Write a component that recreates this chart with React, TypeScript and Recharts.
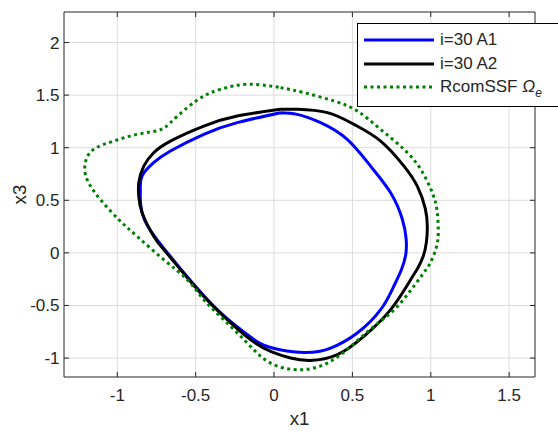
import React from 'react';
import { LineChart, Line, XAxis, YAxis, CartesianGrid, ReferenceLine } from 'recharts';

// ---- Data ----
const X_TICKS = [-1, -0.5, 0, 0.5, 1, 1.5];
const Y_TICKS = [-1, -0.5, 0, 0.5, 1, 1.5, 2];
const X_DOMAIN = [-1.34, 1.665];
const Y_DOMAIN = [-1.18, 2.29];

const SERIES_NAMES = ['i=30 A1', 'i=30 A2', 'RcomSSF'];

// i=30 A1 (blue)
const a1X = [0.042, 0.148, 0.297, 0.467, 0.616, 0.744, 0.819, 0.843, 0.84, 0.81, 0.76, 0.68, 0.531, 0.361, 0.19, -0.022, -0.15, -0.321, -0.469, -0.597, -0.704, -0.821, -0.853, -0.853, -0.842, -0.768, -0.661, -0.448, -0.235, 0.042];
const a1Y = [1.333, 1.317, 1.238, 1.079, 0.825, 0.571, 0.317, 0.13, -0.02, -0.17, -0.33, -0.54, -0.762, -0.905, -0.947, -0.9, -0.8, -0.597, -0.372, -0.15, 0.045, 0.298, 0.508, 0.603, 0.73, 0.857, 0.968, 1.127, 1.238, 1.333];

// i=30 A2 (black)
const a2X = [0.042, 0.148, 0.34, 0.51, 0.68, 0.829, 0.914, 0.965, 0.978, 0.972, 0.95, 0.915, 0.872, 0.744, 0.573, 0.404, 0.233, 0.105, -0.022, -0.15, -0.321, -0.469, -0.597, -0.704, -0.768, -0.842, -0.863, -0.863, -0.831, -0.768, -0.661, -0.448, -0.235, 0.042];
const a2Y = [1.365, 1.365, 1.333, 1.222, 1.063, 0.825, 0.634, 0.42, 0.25, 0.1, -0.04, -0.15, -0.254, -0.54, -0.794, -0.968, -1.023, -1.0, -0.937, -0.825, -0.604, -0.381, -0.159, 0.032, 0.158, 0.381, 0.539, 0.667, 0.825, 0.952, 1.063, 1.206, 1.301, 1.365];

// RcomSSF Omega_e (green dotted)
const ssfX = [0.042, 0.19, 0.382, 0.531, 0.68, 0.829, 0.936, 1.01, 1.04, 1.048, 1.035, 0.995, 0.93, 0.787, 0.637, 0.489, 0.34, 0.169, -0.022, -0.171, -0.321, -0.448, -0.554, -0.704, -0.874, -0.991, -1.108, -1.193, -1.204, -1.151, -1.023, -0.874, -0.736, -0.661, -0.554, -0.448, -0.342, -0.171, 0.042];
const ssfY = [1.571, 1.524, 1.444, 1.349, 1.174, 0.984, 0.794, 0.571, 0.4, 0.2, 0.05, -0.1, -0.24, -0.509, -0.699, -0.89, -1.048, -1.111, -1.048, -0.857, -0.635, -0.445, -0.254, -0.064, 0.158, 0.317, 0.508, 0.698, 0.857, 0.984, 1.063, 1.127, 1.165, 1.238, 1.381, 1.491, 1.555, 1.603, 1.571];

const zip = (xs: number[], ys: number[]) => xs.map((x, i) => ({ x, y: ys[i] }));
const a1Data = zip(a1X, a1Y);
const a2Data = zip(a2X, a2Y);
const ssfData = zip(ssfX, ssfY);

// ---- Layout ----
const W = 558;
const H = 433;
const PLOT_LEFT = 64;
const PLOT_TOP = 12;
const PLOT_RIGHT = 535;
const PLOT_BOTTOM = 377;
const AXIS_COLOR = '#262626';
const FONT = '"Liberation Sans", Arial, Helvetica, sans-serif';
const TICK_FS = 17;
const TICK_LEN = 5;

const XTick = (props: any) => {
  const { x, payload } = props;
  return (
    <g>
      <line x1={x} x2={x} y1={PLOT_BOTTOM} y2={PLOT_BOTTOM - TICK_LEN} stroke={AXIS_COLOR} strokeWidth={1} />
      <line x1={x} x2={x} y1={PLOT_TOP} y2={PLOT_TOP + TICK_LEN} stroke={AXIS_COLOR} strokeWidth={1} />
      <text x={x} y={401} textAnchor="middle" fontSize={TICK_FS} fill={AXIS_COLOR} fontFamily={FONT}>
        {String(payload.value)}
      </text>
    </g>
  );
};

const YTick = (props: any) => {
  const { y, payload } = props;
  return (
    <g>
      <line x1={PLOT_LEFT} x2={PLOT_LEFT + TICK_LEN} y1={y} y2={y} stroke={AXIS_COLOR} strokeWidth={1} />
      <line x1={PLOT_RIGHT} x2={PLOT_RIGHT - TICK_LEN} y1={y} y2={y} stroke={AXIS_COLOR} strokeWidth={1} />
      <text x={59.5} y={y + 6} textAnchor="end" fontSize={TICK_FS} fill={AXIS_COLOR} fontFamily={FONT}>
        {String(payload.value)}
      </text>
    </g>
  );
};

const legendItems = [
  { name: SERIES_NAMES[0], color: '#0000ff', dash: undefined as string | undefined },
  { name: SERIES_NAMES[1], color: '#000000', dash: undefined as string | undefined },
  { name: SERIES_NAMES[2], color: '#008000', dash: '3 3.5' },
];

export default function App() {
  return (
    <div style={{ position: 'absolute', left: 0, top: 0, width: W, height: H, background: '#fff', overflow: 'hidden', fontFamily: FONT }}>
      <LineChart width={W} height={H} margin={{ top: PLOT_TOP, right: W - PLOT_RIGHT, bottom: 0, left: 0 }}>
        <CartesianGrid stroke="#dcdcdc" strokeWidth={1} horizontalValues={Y_TICKS} verticalValues={X_TICKS} />
        <XAxis
          type="number"
          dataKey="x"
          domain={X_DOMAIN}
          allowDataOverflow
          ticks={X_TICKS}
          interval={0}
          height={H - PLOT_BOTTOM}
          tickLine={false}
          axisLine={{ stroke: AXIS_COLOR, strokeWidth: 1 }}
          tick={<XTick />}
          label={{
            content: () => (
              <text x={(PLOT_LEFT + PLOT_RIGHT) / 2} y={425} textAnchor="middle" fontSize={18.7} fill={AXIS_COLOR} fontFamily={FONT}>
                x1
              </text>
            ),
          }}
        />
        <YAxis
          type="number"
          dataKey="y"
          domain={Y_DOMAIN}
          allowDataOverflow
          ticks={Y_TICKS}
          interval={0}
          width={PLOT_LEFT}
          tickLine={false}
          axisLine={{ stroke: AXIS_COLOR, strokeWidth: 1 }}
          tick={<YTick />}
          label={{
            content: () => (
              <text
                x={26}
                y={(PLOT_TOP + PLOT_BOTTOM) / 2}
                textAnchor="middle"
                fontSize={18.7}
                fill={AXIS_COLOR}
                fontFamily={FONT}
                transform={`rotate(-90, 26, ${(PLOT_TOP + PLOT_BOTTOM) / 2})`}
              >
                x3
              </text>
            ),
          }}
        />
        <ReferenceLine y={Y_DOMAIN[1]} stroke={AXIS_COLOR} strokeWidth={1} ifOverflow="visible" />
        <ReferenceLine x={X_DOMAIN[1]} stroke={AXIS_COLOR} strokeWidth={1} ifOverflow="visible" />
        <Line data={a1Data} dataKey="y" name={SERIES_NAMES[0]} type="natural" stroke="#0000ff" strokeWidth={3} dot={false} activeDot={false} isAnimationActive={false} />
        <Line data={a2Data} dataKey="y" name={SERIES_NAMES[1]} type="natural" stroke="#000000" strokeWidth={3} dot={false} activeDot={false} isAnimationActive={false} />
        <Line data={ssfData} dataKey="y" name={SERIES_NAMES[2]} type="natural" stroke="#008000" strokeWidth={3} strokeDasharray="3 3.5" dot={false} activeDot={false} isAnimationActive={false} />
      </LineChart>
      <div
        style={{
          position: 'absolute',
          left: 357,
          top: 23,
          width: 205,
          height: 84,
          boxSizing: 'border-box',
          border: '1px solid #000',
          background: '#fff',
        }}
      >
        {legendItems.map((it, i) => (
          <div key={it.name} style={{ position: 'absolute', left: 0, top: 16 + i * 23.5 - 12, height: 24, width: 205 }}>
            <svg width={80} height={24} style={{ position: 'absolute', left: 0, top: 0 }}>
              <line x1={6} x2={76} y1={12} y2={12} stroke={it.color} strokeWidth={3} strokeDasharray={it.dash} />
            </svg>
            <span style={{ position: 'absolute', left: 82, top: 2, fontSize: 17, lineHeight: '20px', color: AXIS_COLOR, whiteSpace: 'nowrap', fontFamily: FONT }}>
              {it.name}
              {i === 2 ? (
                <>
                  {' '}
                  <span style={{ fontStyle: 'italic' }}>Ω</span>
                  <sub style={{ fontStyle: 'italic', fontSize: 12, verticalAlign: '-5px' }}>e</sub>
                </>
              ) : null}
            </span>
          </div>
        ))}
      </div>
    </div>
  );
}
